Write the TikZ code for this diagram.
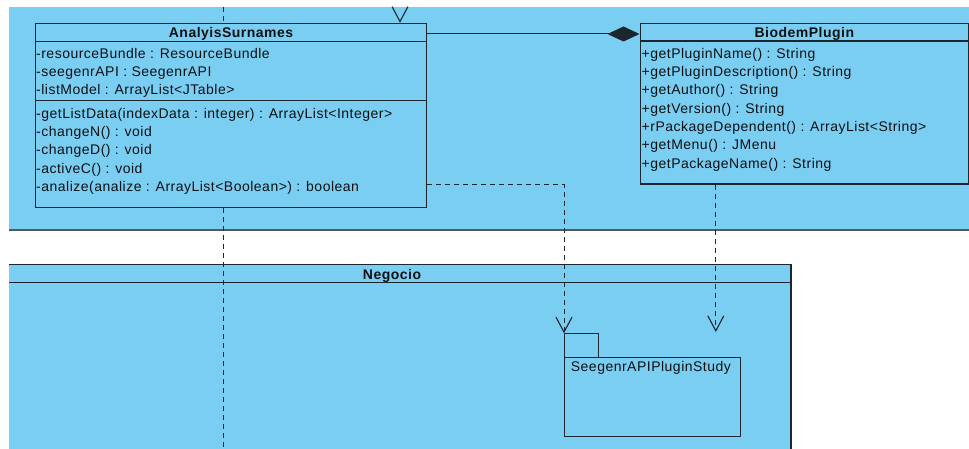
\documentclass[tikz,border=0pt]{standalone}
\usepackage{fontspec}
\newfontfamily\umlfont{Liberation Sans}[LetterSpace=3.5]
\usetikzlibrary{arrows.meta}
\definecolor{panelblue}{RGB}{122,206,242}
\definecolor{edgedark}{RGB}{28,38,46}
\definecolor{edgegray}{RGB}{78,90,98}
\definecolor{txt}{RGB}{12,16,20}

\begin{document}
\begin{tikzpicture}[x=1pt,y=1pt,
  every node/.style={font=\umlfont\fontsize{14}{16}\selectfont, text=txt},
  box/.style={draw=edgedark, line width=1.4pt, fill=panelblue, inner sep=0pt, anchor=north west},
  pkgbox/.style={box, line width=1.1pt},
  member/.style={anchor=west, inner sep=0pt, text height=10pt, text depth=0pt},
  title/.style={member, anchor=center, font=\umlfont\bfseries\fontsize{14}{16}\selectfont},
  sep/.style={draw=edgedark, line width=1.4pt},
  dashline/.style={draw=edgedark, line width=1pt, dash pattern=on 5pt off 4pt},
  dep/.style={dashline, -{Straight Barb[length=15pt,width=16pt,line width=1.1pt]}},
  comp/.style={draw=edgedark, line width=1pt, -{Diamond[length=32pt,width=15pt]}}
]
\useasboundingbox (0,0) rectangle (969,-449);
\fill[white] (0,0) rectangle (969,-449);

% upper package area
\fill[panelblue] (9,-7) rectangle (969,-230);
\draw[edgegray, line width=2pt] (9,-230) -- (969,-230);

% package Negocio
\fill[panelblue] (9,-264.3) rectangle (791,-449);
\draw[edgedark, line width=1.5pt] (9,-264.3) -- (791,-264.3) -- (791,-449);
\draw[edgedark, line width=1.5pt] (9,-282.7) -- (791,-282.7);
\node[title] (negocio) at (392,-274) {Negocio};

% class AnalyisSurnames
\node[box, minimum width=390.7pt, minimum height=184pt] (as) at (35,-22.7) {};
\draw[sep] ([yshift=-19pt]as.north west) -- ([yshift=-19pt]as.north east);
\draw[sep] ([yshift=-78pt]as.north west) -- ([yshift=-78pt]as.north east);
\node[title] (as-name) at ([yshift=-9.6pt]as.north) {AnalyisSurnames};
\node[member] (as-a1) at (36,-53.3) {-resourceBundle : ResourceBundle};
\node[member] (as-a2) at (36,-71.7) {-seegenrAPI : SeegenrAPI};
\node[member] (as-a3) at (36,-90) {-listModel : ArrayList<JTable>};
\node[member] (as-m1) at (36,-113.3) {-getListData(indexData : integer) : ArrayList<Integer>};
\node[member] (as-m2) at (36,-131.7) {-changeN() : void};
\node[member] (as-m3) at (36,-150) {-changeD() : void};
\node[member] (as-m4) at (36,-168.3) {-activeC() : void};
\node[member] (as-m5) at (36,-186.7) {-analize(analize : ArrayList<Boolean>) : boolean};

% class BiodemPlugin
\node[box, minimum width=328.2pt, minimum height=160.6pt] (bp) at (639.5,-22.7) {};
\draw[sep] ([yshift=-18.3pt]bp.north west) -- ([yshift=-18.3pt]bp.north east);
\node[title] (bp-name) at ([yshift=-9.6pt]bp.north) {BiodemPlugin};
\node[member] (bp-m1) at (641.5,-53.3) {+getPluginName() : String};
\node[member] (bp-m2) at (641.5,-71.7) {+getPluginDescription() : String};
\node[member] (bp-m3) at (641.5,-90) {+getAuthor() : String};
\node[member] (bp-m4) at (641.5,-108.3) {+getVersion() : String};
\node[member] (bp-m5) at (641.5,-126.7) {+rPackageDependent() : ArrayList<String>};
\node[member] (bp-m6) at (641.5,-145) {+getMenu() : JMenu};
\node[member] (bp-m7) at (641.5,-163.3) {+getPackageName() : String};

% package SeegenrAPIPluginStudy
\node[pkgbox, minimum width=34.3pt, minimum height=23.4pt] (tab) at (564,-333.3) {};
\node[pkgbox, minimum width=175.7pt, minimum height=79.3pt] (pkg) at (564,-356.7) {};
\node[member] (pkg-name) at (570.7,-366.7) {SeegenrAPIPluginStudy};

% connectors
\coordinate (as-high) at (223.3,-7);
\coordinate (as-low) at (223.3,-449);
\coordinate (as-in) at (400,-7);
\coordinate (bp-dep-end) at (715.8,-332);

\draw[comp] ([yshift=-11.3pt]as.north east) -- ([yshift=-11.3pt]bp.north west);
\draw[dep] (as.east |- bp.south) -| (tab.north west);
\draw[dep] (bp.south -| bp-dep-end) -- (bp-dep-end);
\draw[dashline] (as-high) -- (as.north -| as-high);
\draw[dashline] (as.south -| as-low) -- (as-low);
% incoming dependency: only its head lies inside the panel
\draw[dep, dash pattern=on 0pt off 30pt] (as-in) -- (as.north -| as-in);
\end{tikzpicture}
\end{document}
